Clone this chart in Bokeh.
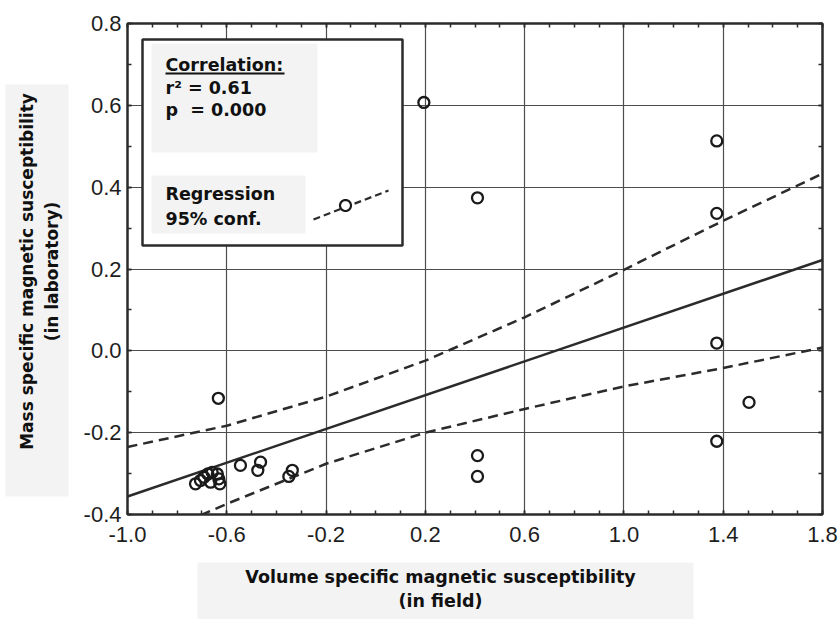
import math
import numpy as np
from bokeh.plotting import figure
from bokeh.layouts import column, row
from bokeh.models import (Range1d, FixedTicker, LinearAxis, Label, BoxAnnotation,
                          PolyAnnotation, Arrow)
from bokeh.core.properties import value
from bokeh.embed import file_html
from bokeh.resources import INLINE

# ---------------- data ----------------
field_x = [-0.726, -0.706, -0.692, -0.676, -0.659, -0.638, -0.632, -0.628, -0.665,
           -0.545, -0.464, -0.475, -0.336, -0.350, -0.634,
           0.194, 0.410, 0.410, 0.410, 1.374, 1.374, 1.374, 1.374, 1.504]
lab_y = [-0.325, -0.317, -0.309, -0.301, -0.297, -0.301, -0.313, -0.325, -0.321,
         -0.280, -0.272, -0.292, -0.292, -0.307, -0.116,
         0.607, 0.374, -0.256, -0.307, 0.513, 0.336, 0.019, -0.221, -0.126]

reg_x = [-1.0, 1.8]
reg_y = [-0.356, 0.222]

ci_x = [-1.0, -0.6, -0.2, 0.2, 0.6, 1.0, 1.4, 1.8]
ci_upper = [-0.235, -0.183, -0.112, -0.024, 0.082, 0.198, 0.318, 0.433]
ci_lower = [-0.480, -0.374, -0.276, -0.200, -0.142, -0.087, -0.042, 0.008]

x_ticks = [-1.0, -0.6, -0.2, 0.2, 0.6, 1.0, 1.4, 1.8]
x_tick_labels = ["-1.0", "-0.6", "-0.2", "0.2", "0.6", "1.0", "1.4", "1.8"]
y_ticks = [-0.4, -0.2, 0.0, 0.2, 0.4, 0.6, 0.8]
y_tick_labels = ["-0.4", "-0.2", "0.0", "0.2", "0.4", "0.6", "0.8"]
x_minor = [round(v, 1) for v in np.arange(-1.0, 1.85, 0.1)]
y_minor = [round(v, 1) for v in np.arange(-0.4, 0.85, 0.1)]

x_title = ["Volume specific magnetic susceptibility", "(in field)"]
y_title = ["Mass specific magnetic susceptibility", "(in laboratory)"]
legend_stats = ["Correlation:", "r\u00b2 = 0.61", "p\u00a0 = 0.000"]
legend_fit = ["Regression", "95% conf."]

# ---------------- layout constants (canvas px) ----------------
W, H = 840, 619
YW = 75          # width of the left strip holding the y title
MH = 555         # height of the top row (main plot)
L, R, T, B = 127, 822, 23, 514  # frame edges in canvas px
DARK = "#2b2b2b"
TXT = "#111111"
GRAYBOX = "#f3f3f3"
BFIX = 6.5       # baseline correction for bold labels


def sx(px):
    return px - L


def sy(py):
    return B - py


# ---------------- main plot ----------------
p = figure(width=W - YW, height=MH, x_range=Range1d(-1.0, 1.8), y_range=Range1d(-0.4, 0.8),
           output_backend="svg", toolbar_location=None,
           min_border_left=L - YW, min_border_right=W - R, min_border_top=T,
           min_border_bottom=MH - B)
p.background_fill_color = "white"
p.border_fill_color = "white"
p.outline_line_color = DARK
p.outline_line_width = 2


def style_axis(ax, ticks, minor, labels, show):
    ax.ticker = FixedTicker(ticks=ticks, minor_ticks=minor)
    ax.axis_line_color = DARK
    ax.axis_line_width = 2
    ax.major_tick_in = 4
    ax.major_tick_out = 0
    ax.minor_tick_in = 4
    ax.minor_tick_out = 0
    ax.major_tick_line_color = DARK
    ax.minor_tick_line_color = DARK
    ax.major_tick_line_width = 1.5
    ax.minor_tick_line_width = 1.5
    if show:
        ax.major_label_overrides = {t: l for t, l in zip(ticks, labels)}
        ax.major_label_text_font = "Liberation Sans"
        ax.major_label_text_font_size = "22px"
        ax.major_label_text_color = "#1e1e1e"
    else:
        ax.major_label_text_font_size = "0px"
        ax.major_label_text_color = None
        ax.major_label_standoff = 0


style_axis(p.xaxis[0], x_ticks, x_minor, x_tick_labels, True)
p.xaxis[0].major_label_standoff = 12
style_axis(p.yaxis[0], y_ticks, y_minor, y_tick_labels, True)
p.yaxis[0].major_label_standoff = 6

top_ax = LinearAxis()
style_axis(top_ax, x_ticks, x_minor, x_tick_labels, False)
p.add_layout(top_ax, "above")
right_ax = LinearAxis()
style_axis(right_ax, y_ticks, y_minor, y_tick_labels, False)
p.add_layout(right_ax, "right")

p.grid.grid_line_color = "#4d4d4d"
p.grid.grid_line_width = 1.2

p.line(ci_x, ci_upper, line_color=DARK, line_width=2.5, line_dash="10 6")
p.line(ci_x, ci_lower, line_color=DARK, line_width=2.5, line_dash="10 6")
p.line(reg_x, reg_y, line_color=DARK, line_width=2.5)
p.scatter(field_x, lab_y, marker="circle", size=11, fill_color=None,
          line_color="#1a1a1a", line_width=2.3)


def box(px0, py0, px1, py1, fill, line=None, lw=0):
    b = BoxAnnotation(left=sx(px0), right=sx(px1), top=sy(py0), bottom=sy(py1),
                      left_units="screen", right_units="screen",
                      top_units="screen", bottom_units="screen",
                      fill_color=fill, fill_alpha=1.0,
                      line_color=line, line_width=lw, line_alpha=1.0 if line else 0.0)
    p.add_layout(b)
    return b


def label(px, py, text, size="17.5px"):
    lb = Label(x=sx(px), y=sy(py - BFIX), x_units="screen", y_units="screen", text=text,
               text_font="DejaVu Sans", text_font_style="bold", text_font_size=size,
               text_color=TXT, text_align="left", text_baseline="alphabetic")
    p.add_layout(lb)
    return lb


# legend box
box(142, 39, 402, 245, "white", DARK, 2.5)
box(151, 43, 317, 152, GRAYBOX)
box(151, 175, 305, 233, GRAYBOX)
label(165, 71, legend_stats[0])
box(165, 72, 284, 74, TXT)
label(165, 93.5, legend_stats[1])
label(165, 116, legend_stats[2])
label(165, 200, legend_fit[0])
label(165, 225, legend_fit[1])

# legend sample: dashed line with circle marker
p.add_layout(Arrow(end=None, x_start=sx(313), y_start=sy(219), x_end=sx(388), y_end=sy(190),
                   start_units="screen", end_units="screen",
                   line_color=DARK, line_width=2.2, line_dash="7 4"))
cx, cy, rr = 345, 205, 5.5
angs = np.linspace(0, 2 * np.pi, 25)[:-1]
p.add_layout(PolyAnnotation(xs=[sx(cx + rr * math.cos(a)) for a in angs],
                            ys=[sy(cy + rr * math.sin(a)) for a in angs],
                            xs_units="screen", ys_units="screen",
                            fill_color="white", fill_alpha=1.0,
                            line_color="#1a1a1a", line_width=2.2, line_alpha=1.0))


# ---------------- title strips (coordinates in canvas px) ----------------
def strip(w, h, xr, yr, **borders):
    f = figure(width=w, height=h, x_range=Range1d(*xr), y_range=Range1d(*yr),
               output_backend="svg", toolbar_location=None,
               x_axis_location=None, y_axis_location=None, **borders)
    f.grid.visible = False
    f.outline_line_color = None
    f.background_fill_color = "white"
    f.border_fill_color = "white"
    return f


# y title strip: frame spans the main frame's height (rows align frames)
yf = strip(YW, MH, (0, YW), (MH - B, MH - T),
           min_border_left=0, min_border_right=0, min_border_top=T, min_border_bottom=MH - B)
yf.quad(left=[5], right=[68], top=[MH - 84], bottom=[MH - 496], fill_color=GRAYBOX,
        line_color=None)
yf.text(x=[33 - BFIX, 58 - BFIX], y=[MH - 271, MH - 271], text=y_title,
        text_font=value("DejaVu Sans"), text_font_style="bold", text_font_size="17px",
        text_color=TXT, text_align="center", text_baseline="alphabetic", angle=math.pi / 2)

# x title strip: canvas x 0..W, y MH..H
XH = H - MH
xf = strip(W, XH, (0, W), (0, XH), min_border=0)
xf.quad(left=[197], right=[693], top=[H - 562], bottom=[0], fill_color=GRAYBOX,
        line_color=None)
xf.text(x=[440, 440], y=[H - 583 + BFIX, H - 607 + BFIX], text=x_title,
        text_font=value("DejaVu Sans"), text_font_style="bold", text_font_size="17.5px",
        text_color=TXT, text_align="center", text_baseline="alphabetic")

layout = column(row(yf, p, spacing=0), xf, spacing=0)
open("out.html", "w").write(file_html(layout, INLINE))
